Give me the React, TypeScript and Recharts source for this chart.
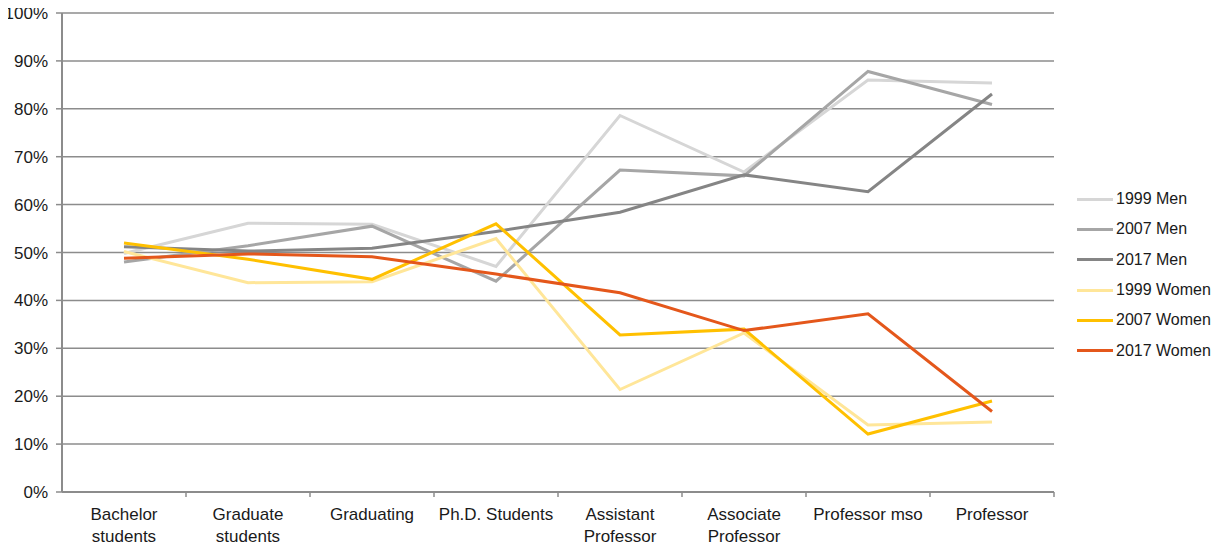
import React from "react";
import { LineChart, Line, XAxis, YAxis, CartesianGrid, Legend } from "recharts";

const categories = [
  "Bachelor students",
  "Graduate students",
  "Graduating",
  "Ph.D. Students",
  "Assistant Professor",
  "Associate Professor",
  "Professor mso",
  "Professor",
];

const men1999 = [49.8, 56.1, 55.9, 47.1, 78.6, 66.8, 86.0, 85.4];
const men2007 = [48.0, 51.4, 55.5, 44.0, 67.2, 66.0, 87.8, 80.9];
const men2017 = [51.2, 50.3, 50.9, 54.4, 58.4, 66.2, 62.7, 83.1];
const women1999 = [50.2, 43.7, 43.9, 52.9, 21.4, 33.2, 14.0, 14.6];
const women2007 = [52.0, 48.6, 44.4, 56.0, 32.8, 34.0, 12.1, 19.0];
const women2017 = [48.8, 49.7, 49.1, 45.5, 41.6, 33.7, 37.2, 16.8];

const yTicks = [0, 10, 20, 30, 40, 50, 60, 70, 80, 90, 100];

const seriesDefs = [
  { key: "m1999", name: "1999 Men", color: "#d6d6d6", values: men1999 },
  { key: "m2007", name: "2007 Men", color: "#a6a6a6", values: men2007 },
  { key: "m2017", name: "2017 Men", color: "#858585", values: men2017 },
  { key: "w1999", name: "1999 Women", color: "#ffe699", values: women1999 },
  { key: "w2007", name: "2007 Women", color: "#ffc000", values: women2007 },
  { key: "w2017", name: "2017 Women", color: "#e4571b", values: women2017 },
];

const data = categories.map((c, i) => {
  const row: Record<string, string | number> = { category: c };
  seriesDefs.forEach((s) => {
    row[s.key] = s.values[i];
  });
  return row;
});

const FONT = "'Liberation Sans', Arial, Helvetica, sans-serif";
const TEXT = "#1a1a1a";
const GRID = "#8c8c8c";

function splitLabel(label: string): string[] {
  if (label.length > 14) {
    const idx = label.indexOf(" ");
    if (idx > 0) return [label.slice(0, idx), label.slice(idx + 1)];
  }
  return [label];
}

const XTick = (props: any) => {
  const { x, y, payload, width } = props;
  const band = (width || 992) / categories.length;
  const lines = splitLabel(String(payload.value));
  return (
    <g>
      <line x1={x + band / 2} x2={x + band / 2} y1={y} y2={y + 5} stroke={GRID} strokeWidth={1.5} />
      <text x={x} y={y} textAnchor="middle" fill={TEXT} fontSize={17} fontFamily={FONT}>
        {lines.map((l, i) => (
          <tspan key={i} x={x} dy={i === 0 ? 28 : 22}>
            {l}
          </tspan>
        ))}
      </text>
    </g>
  );
};

const renderLegend = () => (
  <div style={{ fontFamily: FONT, fontSize: 16, color: TEXT }}>
    {seriesDefs.map((s) => (
      <div key={s.key} style={{ height: 30.3, display: "flex", alignItems: "center" }}>
        <div style={{ width: 36, height: 3, background: s.color, marginRight: 3, flexShrink: 0 }} />
        <span style={{ whiteSpace: "nowrap" }}>{s.name}</span>
      </div>
    ))}
  </div>
);

export default function App() {
  return (
    <div style={{ width: 1223, height: 551, background: "#fff", margin: "-8px 0 0 -8px" }}>
      <LineChart
        width={1223}
        height={551}
        data={data}
        margin={{ top: 13, right: 29, bottom: 0, left: 0 }}
      >
        <CartesianGrid vertical={false} stroke={GRID} strokeWidth={1.5} />
        <XAxis
          dataKey="category"
          interval={0}
          padding={{ left: 62, right: 62 }}
          tickLine={false}
          tickSize={0}
          tickMargin={0}
          height={59}
          axisLine={{ stroke: GRID, strokeWidth: 2 }}
          tick={<XTick />}
        />
        <YAxis
          type="number"
          domain={[0, 100]}
          ticks={yTicks}
          width={62}
          tickSize={6}
          tickMargin={8}
          tickFormatter={(v: number) => `${v}%`}
          axisLine={{ stroke: GRID, strokeWidth: 2 }}
          tickLine={{ stroke: GRID, strokeWidth: 1.5 }}
          tick={{ fill: TEXT, fontSize: 17, fontFamily: FONT }}
        />
        <Legend
          layout="vertical"
          align="right"
          verticalAlign="top"
          wrapperStyle={{ left: 1077, top: 184, width: 140 }}
          content={renderLegend}
        />
        {seriesDefs.map((s) => (
          <Line
            key={s.key}
            type="linear"
            dataKey={s.key}
            name={s.name}
            stroke={s.color}
            strokeWidth={3}
            dot={false}
            activeDot={false}
            isAnimationActive={false}
          />
        ))}
      </LineChart>
    </div>
  );
}
